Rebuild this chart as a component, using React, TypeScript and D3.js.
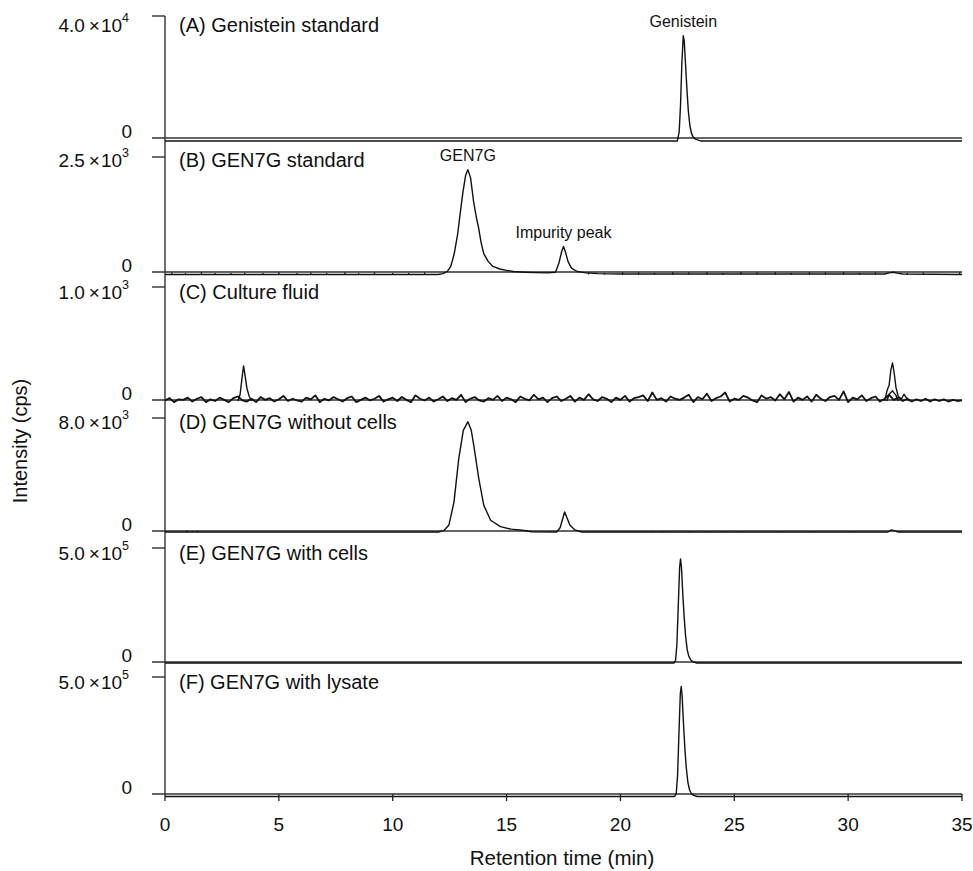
import React from "react";
import * as d3 from "d3";

// retention time axis
const timeTicks = [0, 5, 10, 15, 20, 25, 30, 35];

// panels
const panelTitles = [
  "(A) Genistein standard",
  "(B) GEN7G standard",
  "(C) Culture fluid",
  "(D) GEN7G without cells",
  "(E) GEN7G with cells",
  "(F) GEN7G with lysate",
];
const panelMax = [4.0e4, 2.5e3, 1.0e3, 8.0e3, 5.0e5, 5.0e5];
const maxMantissa = ["4.0", "2.5", "1.0", "8.0", "5.0", "5.0"];
const maxExponent = ["4", "3", "3", "3", "5", "5"];

// chromatograms: [time (min), intensity (cps)]
const traceA: [number, number][] = [
  [0, 0], [22.5, 0], [22.58, 3000], [22.64, 12000], [22.7, 26000], [22.76, 34500],
  [22.8, 33000], [22.86, 25000], [22.92, 17000], [22.98, 10000], [23.05, 5000],
  [23.12, 2500], [23.2, 1200], [23.3, 600], [23.45, 200], [23.55, 0], [35, 0],
];
const traceB: [number, number][] = [
  [0, 0], [12.0, 0], [12.2, 20], [12.4, 70], [12.55, 175], [12.7, 450], [12.85, 870],
  [12.97, 1350], [13.08, 1780], [13.2, 2150], [13.3, 2280], [13.42, 2100], [13.55, 1590],
  [13.67, 1250], [13.77, 1020], [13.88, 700], [14.0, 450], [14.2, 280], [14.4, 175],
  [14.7, 120], [15.0, 90], [15.3, 65], [15.8, 50], [16.3, 40], [16.8, 35], [17.15, 50],
  [17.3, 250], [17.42, 500], [17.5, 610], [17.58, 500], [17.7, 280], [17.85, 140],
  [18.1, 65], [18.5, 35], [19, 20], [20, 10], [31.6, 10], [31.85, 40], [32.0, 50],
  [32.15, 30], [32.4, 10], [35, 0],
];
const traceC: [number, number][] = [
  [3.2, 0], [3.3, 60], [3.38, 200], [3.45, 310], [3.52, 220], [3.6, 110], [3.7, 40], [3.8, 0],
];
const traceC2: [number, number][] = [
  [31.6, 0], [31.72, 100], [31.8, 140], [31.88, 280], [31.95, 336], [32.02, 250],
  [32.1, 120], [32.2, 40], [32.35, 20], [32.45, 60], [32.55, 30], [32.7, 0],
];
const traceC3: [number, number][] = [
  [31.7, 0], [31.8, 60], [31.95, 90], [32.1, 50], [32.2, 0],
];
const traceD: [number, number][] = [
  [0, 0], [12.0, 0], [12.25, 100], [12.47, 500], [12.69, 2120], [12.9, 5190], [13.1, 7200],
  [13.3, 7800], [13.45, 7200], [13.56, 6140], [13.78, 3780], [14.0, 1890], [14.3, 830],
  [14.73, 380], [15.2, 200], [15.7, 120], [16.1, 20], [17.2, 0], [17.35, 300],
  [17.55, 1416], [17.78, 500], [18.0, 150], [18.3, 0], [31.75, 0], [31.9, 150],
  [32.05, 80], [32.2, 0], [35, 0],
];
const traceE: [number, number][] = [
  [0, 0], [22.35, 0], [22.42, 10000], [22.48, 80000], [22.54, 250000], [22.6, 420000],
  [22.64, 456000], [22.68, 420000], [22.74, 300000], [22.8, 200000], [22.86, 120000],
  [22.93, 60000], [23.0, 30000], [23.1, 12000], [23.2, 5000], [23.35, 0], [35, 0],
];
const traceF: [number, number][] = [
  [0, 0], [22.38, 0], [22.45, 12000], [22.51, 90000], [22.57, 270000], [22.63, 440000],
  [22.67, 470000], [22.71, 430000], [22.77, 310000], [22.83, 205000], [22.89, 125000],
  [22.96, 62000], [23.03, 30000], [23.12, 12000], [23.22, 5000], [23.38, 0], [35, 0],
];

// culture fluid baseline noise, one reading every 0.2 min from 0 to 35
const noiseCStep = 0.2;
const noiseC = [
  5, 25, -10, 15, 10, 30, -5, 20, 35, -10,
  15, 0, 30, 10, -10, 25, 40, 5, -5, 20,
  -10, 35, 10, 25, -5, 15, 45, 0, 20, 5,
  -5, 30, 15, 50, -10, 20, 5, 35, 15, -5,
  25, 40, -10, 10, 30, 5, 20, 45, -5, 15,
  30, 0, 35, 10, -10, 50, 20, 5, 30, -5,
  15, 40, 0, 25, 10, 55, -10, 20, 35, 5,
  -5, 25, 10, 45, 0, 30, 15, -10, 40, 20,
  5, 55, 15, 30, -10, 25, 40, 0, 20, 45,
  -5, 30, 10, 60, 15, 0, 35, 20, -10, 30,
  10, 45, -5, 25, 35, 50, 0, 75, 10, 25,
  -5, 40, 20, 10, 30, 55, -10, 35, 15, 65,
  0, 25, 40, 75, -5, 20, 10, 45, 30, 5,
  -10, 50, 20, 35, 5, 60, 15, 80, -5, 30,
  10, 40, -5, 55, 20, 0, 35, 45, 10, 85,
  -10, 30, 15, 50, 0, 25, 40, -5, 20, 55,
  10, 30, 0, 20, -5, 15, 0, 20, -5, 15,
  0, 15, -5, 10, 0, 5,
];

// small baseline spikes: [time, intensity]
const spikesB: [number, number][] = [
  [0.3, 45], [0.9, 30], [1.6, 50], [2.2, 35], [2.9, 30], [3.5, 45], [4.3, 35], [5.0, 50],
  [5.8, 30], [6.4, 45], [7.1, 35], [7.9, 50], [8.5, 30], [9.2, 45], [10.0, 35], [10.7, 30],
  [11.4, 45], [18.6, 45], [19.3, 35], [20.1, 50], [20.8, 45], [21.5, 35], [22.3, 50],
  [23.0, 45], [23.8, 50], [24.5, 35], [25.3, 55], [26.0, 45], [26.8, 50], [27.5, 35],
  [28.3, 50], [29.0, 45], [29.8, 50], [30.5, 35], [31.2, 45], [32.6, 35], [33.3, 45],
  [34.9, 50],
];
const spikesD: [number, number][] = [
  [0.95, 110], [1.42, 90], [18.6, 70], [19.0, 60], [19.4, 60], [19.8, 50], [20.2, 60],
  [20.6, 50], [21.0, 60], [21.4, 50], [21.9, 70], [23.0, 60], [23.8, 70], [24.5, 60],
  [25.3, 50], [26.9, 50], [28.5, 40], [30.0, 40], [32.3, 60],
];

// peak annotations
const peakNames = ["Genistein", "GEN7G", "Impurity peak"];
const peakPanel = [0, 1, 1];
const peakTime = [22.76, 13.3, 17.5];
const peakHeight = [34500, 2280, 610];

const traces = [[traceA], [traceB], [traceC, traceC2, traceC3], [traceD], [traceE], [traceF]];
const spikes = [[], spikesB, [], spikesD, [], []];

// layout (pixels)
const W = 973;
const H = 871;
const zeroY = [138, 272, 400, 531, 662, 794];
const topY = [16, 157, 287, 418, 548, 677];
const labelY = [25, 160, 292, 422, 553, 682];
const baseOffset = [3, 2.5, 1, 1, 1, 2.5];
const FONT = "Arial, 'Liberation Sans', Helvetica, sans-serif";

const x = d3.scaleLinear().domain([0, 35]).range([165, 962]);

export default function App() {
  const noiseCPoints: [number, number][] = noiseC.map((v, i) => [i * noiseCStep, v]);

  return (
    <svg
      width={W}
      height={H}
      style={{ position: "absolute", left: 0, top: 0, background: "#fff" }}
      fontFamily={FONT}
    >
      <rect width={W} height={H} fill="#fff" />

      {/* y axis */}
      <line x1={165} x2={165} y1={topY[0]} y2={zeroY[5]} stroke="#222" strokeWidth={1.3} />

      {panelTitles.map((title, i) => {
        const y = d3.scaleLinear().domain([0, panelMax[i]]).range([zeroY[i], topY[i]]);
        const line = d3
          .line<[number, number]>()
          .x((d) => x(d[0]))
          .y((d) => y(d[1]));
        return (
          <g key={title}>
            <line x1={152} x2={165} y1={y(panelMax[i])} y2={y(panelMax[i])} stroke="#222" strokeWidth={1.3} />
            <line x1={152} x2={x(35)} y1={y(0)} y2={y(0)} stroke="#333" strokeWidth={1.3} />
            <text x={129} y={labelY[i]} textAnchor="end" dominantBaseline="central" fontSize={19} fill="#111">
              {maxMantissa[i]}
              <tspan dx={4}>×</tspan>
              <tspan dx={1}>10</tspan>
              <tspan dy={-7} fontSize={12.5}>{maxExponent[i]}</tspan>
            </text>
            <text x={132} y={y(0) - 7} textAnchor="end" dominantBaseline="central" fontSize={19} fill="#111">
              0
            </text>
            <text x={179} y={labelY[i]} dominantBaseline="central" fontSize={20} fill="#111">
              {title}
            </text>
            <g transform={`translate(0,${baseOffset[i]})`}>
              {i === 2 && (
                <path d={line(noiseCPoints) ?? ""} fill="none" stroke="#111" strokeWidth={1.8} strokeLinejoin="round" />
              )}
              {traces[i].map((pts, j) => (
                <path key={j} d={line(pts) ?? ""} fill="none" stroke="#111" strokeWidth={1.4} strokeLinejoin="round" />
              ))}
              {spikes[i].map((d, j) => (
                <line key={j} x1={x(d[0])} x2={x(d[0])} y1={y(0)} y2={y(d[1])} stroke="#111" strokeWidth={1.3} />
              ))}
            </g>
          </g>
        );
      })}

      {/* peak labels */}
      {peakNames.map((name, k) => {
        const p = peakPanel[k];
        const y = d3.scaleLinear().domain([0, panelMax[p]]).range([zeroY[p], topY[p]]);
        return (
          <text key={name} x={x(peakTime[k])} y={y(peakHeight[k]) - 6} textAnchor="middle" fontSize={16} fill="#111">
            {name}
          </text>
        );
      })}

      {/* x axis ticks */}
      {timeTicks.map((t) => (
        <g key={t}>
          <line x1={x(t)} x2={x(t)} y1={zeroY[5]} y2={zeroY[5] + 7} stroke="#222" strokeWidth={1.3} />
          <text x={x(t)} y={831} textAnchor="middle" fontSize={19} fill="#111">
            {t}
          </text>
        </g>
      ))}

      <text x={562} y={865} textAnchor="middle" fontSize={20.5} fill="#111">
        Retention time (min)
      </text>
      <text
        transform="translate(27,441) rotate(-90)"
        textAnchor="middle"
        fontSize={20}
        fill="#111"
      >
        Intensity (cps)
      </text>
    </svg>
  );
}
